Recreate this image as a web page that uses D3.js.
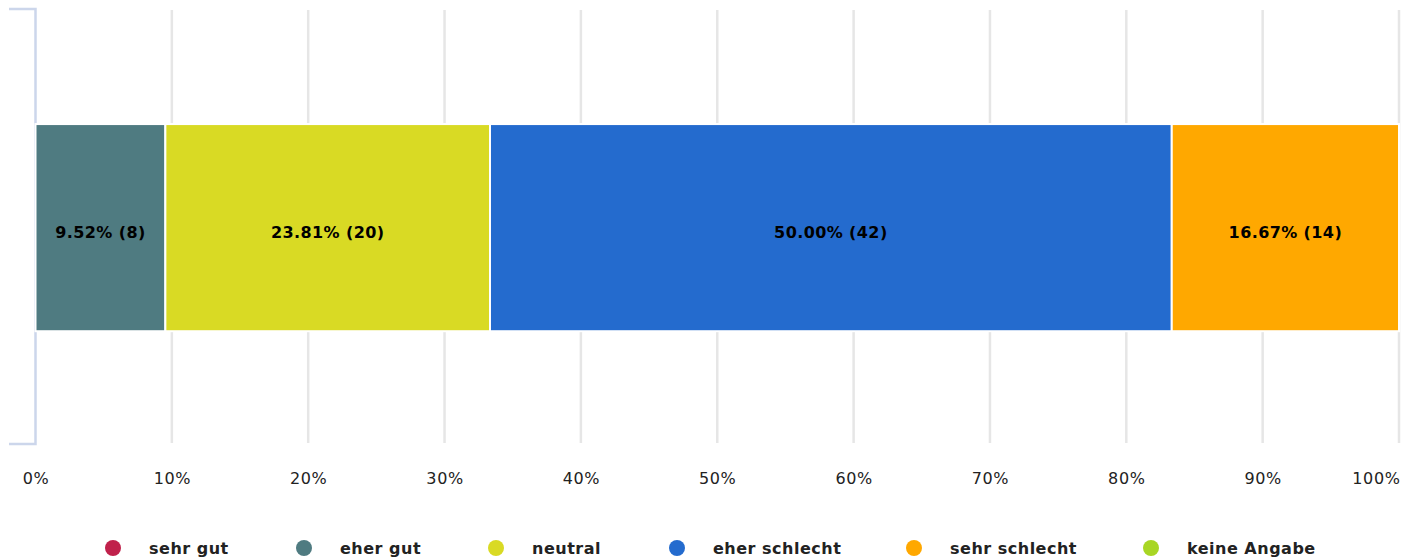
<!DOCTYPE html>
<html>
<head>
<meta charset="utf-8">
<script src="https://cdn.jsdelivr.net/npm/d3@7"></script>
<style>
  body { margin: 0; background: #fff; }
  svg { font-family: "DejaVu Sans", sans-serif; }
</style>
</head>
<body>
<div id="chart"></div>
<script>
'use strict';

// Answer categories, counts and colours
var categories = ['sehr gut', 'eher gut', 'neutral', 'eher schlecht', 'sehr schlecht', 'keine Angabe'];
var counts = [0, 8, 20, 42, 14, 0];
var colors = ['#c0214b', '#4f7b81', '#d9da24', '#246bce', '#ffa800', '#a8d624'];
var tickValues = [0, 10, 20, 30, 40, 50, 60, 70, 80, 90, 100];
var legendX = [113, 304, 496, 677, 914, 1151];

var width = 1411, height = 558;
var svg = d3.select('#chart').append('svg')
    .attr('width', width)
    .attr('height', height);

var x = d3.scaleLinear().domain([0, 100]).range([35.5, 1399]);
var plotTop = 9, plotBottom = 444;
var y = d3.scaleBand().domain(['q']).range([plotTop, plotBottom])
    .paddingInner(0).paddingOuter(0.55).align(0.505);

var total = d3.sum(counts);

//Grid lines
svg.append('g').selectAll('line')
    .data(tickValues.slice(1))
    .enter().append('line')
    .attr('x1', function(d) { return x(d); })
    .attr('x2', function(d) { return x(d); })
    .attr('y1', plotTop + 1)
    .attr('y2', plotBottom - 1)
    .attr('stroke', '#e6e6e6')
    .attr('stroke-width', 2.5);

//Axis bracket (category axis)
svg.append('path')
    .attr('d', 'M9,' + plotTop + 'H' + x(0) + 'V' + plotBottom + 'H9')
    .attr('fill', 'none')
    .attr('stroke', '#ccd6eb')
    .attr('stroke-width', 2.5);

//Stacked segments
var segments = [];
var acc = 0;
counts.forEach(function(c, i) {
    var pct = c / total * 100;
    segments.push({ name: categories[i], count: c, pct: pct, start: acc, color: colors[i] });
    acc += pct;
});
var visible = segments.filter(function(d) { return d.count > 0; });

var bars = svg.append('g');
bars.selectAll('rect')
    .data(visible)
    .enter().append('rect')
    .attr('x', function(d) { return x(d.start); })
    .attr('width', function(d) { return x(d.start + d.pct) - x(d.start); })
    .attr('y', y('q'))
    .attr('height', y.bandwidth())
    .attr('fill', function(d) { return d.color; })
    .attr('stroke', '#fff')
    .attr('stroke-width', 2);

bars.selectAll('text')
    .data(visible)
    .enter().append('text')
    .attr('x', function(d) { return x(d.start + d.pct / 2); })
    .attr('y', y('q') + y.bandwidth() / 2 + 5)
    .attr('dy', '0.35em')
    .attr('text-anchor', 'middle')
    .attr('font-size', 16)
    .attr('font-weight', 'bold')
    .attr('letter-spacing', 0.4)
    .attr('fill', '#000')
    .text(function(d) { return d.pct.toFixed(2) + '% (' + d.count + ')'; });

//Percentage axis
var axis = svg.append('g')
    .attr('transform', 'translate(0,' + plotBottom + ')')
    .call(d3.axisBottom(x).tickValues(tickValues).tickSize(0).tickPadding(29)
        .tickFormat(function(d) { return d + '%'; }));
axis.select('.domain').remove();
axis.selectAll('text')
    .attr('font-family', '"DejaVu Sans", sans-serif')
    .attr('font-size', 16)
    .attr('letter-spacing', 0.6)
    .attr('fill', '#222');
//Keep the last label inside the chart
axis.selectAll('.tick').filter(function(d) { return d === 100; }).select('text')
    .attr('text-anchor', 'end')
    .attr('x', 1);

//Legend
var legend = svg.append('g').selectAll('g')
    .data(categories)
    .enter().append('g')
    .attr('transform', function(d, i) { return 'translate(' + legendX[i] + ',548)'; });
legend.append('circle')
    .attr('r', 8)
    .attr('fill', function(d, i) { return colors[i]; });
legend.append('text')
    .attr('x', 36)
    .attr('dy', '0.35em')
    .attr('font-size', 16)
    .attr('font-weight', 'bold')
    .attr('letter-spacing', 0.5)
    .attr('fill', '#222')
    .text(function(d) { return d; });
</script>
</body>
</html>
